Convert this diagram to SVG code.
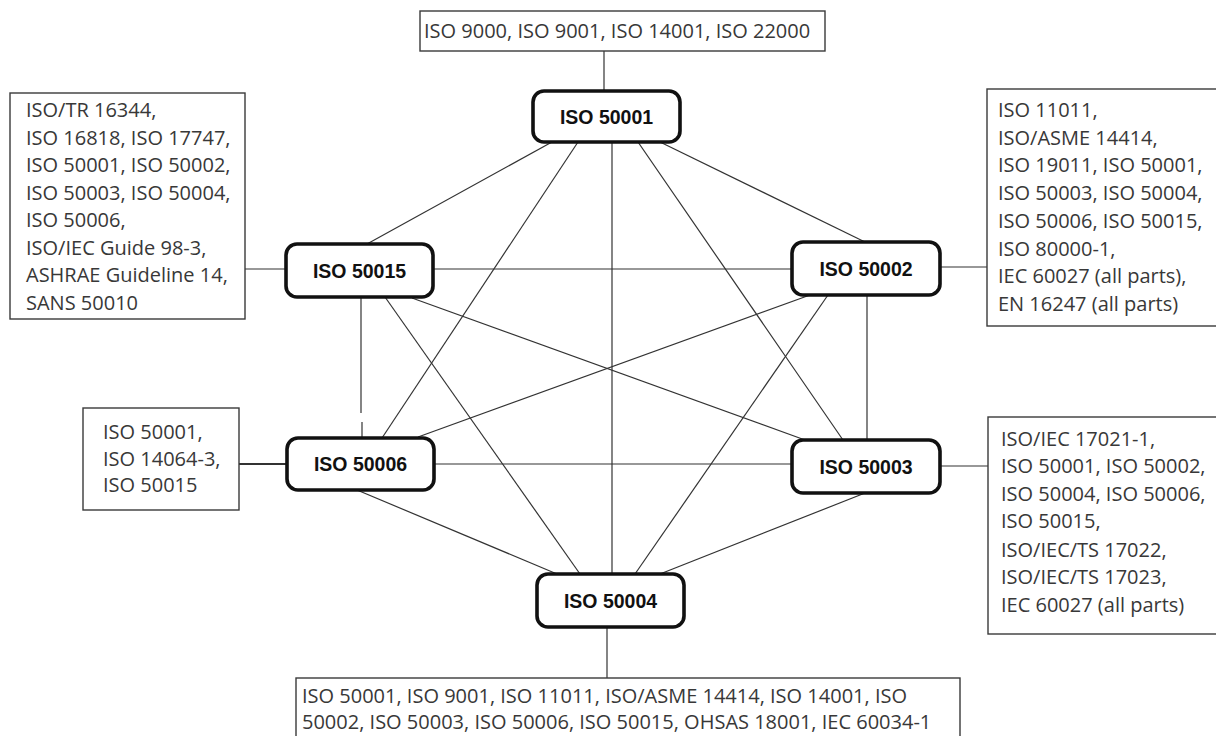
<svg xmlns="http://www.w3.org/2000/svg" width="1216" height="736" viewBox="0 0 1216 736">
<style>
.bg{fill:#fff}
.box{fill:#fff;stroke:#3a3a3a;stroke-width:1.4}
.node rect{fill:#fff;stroke:#111;stroke-width:3.6}
.node text{font-family:"Liberation Sans",Arial,sans-serif;font-weight:bold;font-size:19.5px;fill:#111;text-anchor:middle}
.lbl{font-family:"Open Sans","Noto Sans",sans-serif;font-size:20px;fill:#383838}
.edges line{stroke:#333;stroke-width:1.2}
.edges line.th{stroke-width:2.2}
</style>
<rect class="bg" x="0" y="0" width="1216" height="736"/>
<g class="edges">
<line x1="604" y1="51" x2="604" y2="91"/>
<line x1="245" y1="269" x2="286" y2="269"/>
<line x1="940" y1="267" x2="987" y2="267"/>
<line class="th" x1="239" y1="464" x2="287" y2="464"/>
<line x1="940" y1="466" x2="988" y2="466"/>
<line x1="607" y1="627" x2="607" y2="678"/>
<line x1="552" y1="142" x2="367" y2="244"/>
<line x1="578" y1="142" x2="382" y2="438"/>
<line x1="612" y1="142" x2="612" y2="574"/>
<line x1="638" y1="142" x2="843" y2="440"/>
<line x1="660" y1="142" x2="865" y2="242"/>
<line x1="433" y1="269" x2="792" y2="269"/>
<line x1="361" y1="297" x2="361" y2="413"/>
<line x1="362" y1="422" x2="362" y2="438"/>
<line x1="385" y1="297" x2="580" y2="574"/>
<line x1="412" y1="298" x2="805" y2="440"/>
<line x1="810" y1="295" x2="418" y2="437"/>
<line x1="828" y1="295" x2="635" y2="574"/>
<line x1="867" y1="295" x2="867" y2="440"/>
<line x1="434" y1="464" x2="792" y2="464"/>
<line x1="357" y1="490" x2="557" y2="574"/>
<line x1="865" y1="493" x2="660" y2="574"/>
</g>
<g id="box-top">
<rect class="box" x="420" y="11" width="405" height="40"/>
<text class="lbl" x="424" y="38">ISO 9000, ISO 9001, ISO 14001, ISO 22000</text>
</g>
<g id="box-50015">
<rect class="box" x="10" y="93" width="235" height="226"/>
<text class="lbl" x="26" y="117">ISO/TR 16344,</text>
<text class="lbl" x="26" y="144.5">ISO 16818, ISO 17747,</text>
<text class="lbl" x="26" y="172">ISO 50001, ISO 50002,</text>
<text class="lbl" x="26" y="199.5">ISO 50003, ISO 50004,</text>
<text class="lbl" x="26" y="227">ISO 50006,</text>
<text class="lbl" x="26" y="254.5">ISO/IEC Guide 98-3,</text>
<text class="lbl" x="26" y="282">ASHRAE Guideline 14,</text>
<text class="lbl" x="26" y="309.5">SANS 50010</text>
</g>
<g id="box-50002">
<rect class="box" x="987" y="89" width="240" height="237"/>
<text class="lbl" x="998" y="117">ISO 11011,</text>
<text class="lbl" x="998" y="144.7">ISO/ASME 14414,</text>
<text class="lbl" x="998" y="172.4">ISO 19011, ISO 50001,</text>
<text class="lbl" x="998" y="200.1">ISO 50003, ISO 50004,</text>
<text class="lbl" x="998" y="227.8">ISO 50006, ISO 50015,</text>
<text class="lbl" x="998" y="255.5">ISO 80000-1,</text>
<text class="lbl" x="998" y="283.2">IEC 60027 (all parts),</text>
<text class="lbl" x="998" y="310.9">EN 16247 (all parts)</text>
</g>
<g id="box-50006">
<rect class="box" x="83" y="408" width="156" height="102"/>
<text class="lbl" x="103" y="439">ISO 50001,</text>
<text class="lbl" x="103" y="465.5">ISO 14064-3,</text>
<text class="lbl" x="103" y="492">ISO 50015</text>
</g>
<g id="box-50003">
<rect class="box" x="988" y="417" width="240" height="217"/>
<text class="lbl" x="1001" y="445.5">ISO/IEC 17021-1,</text>
<text class="lbl" x="1001" y="473">ISO 50001, ISO 50002,</text>
<text class="lbl" x="1001" y="500.5">ISO 50004, ISO 50006,</text>
<text class="lbl" x="1001" y="528">ISO 50015,</text>
<text class="lbl" x="1001" y="556.5">ISO/IEC/TS 17022,</text>
<text class="lbl" x="1001" y="584">ISO/IEC/TS 17023,</text>
<text class="lbl" x="1001" y="612">IEC 60027 (all parts)</text>
</g>
<g id="box-bottom">
<rect class="box" x="296" y="678" width="664" height="70"/>
<text class="lbl" x="302" y="703">ISO 50001, ISO 9001, ISO 11011, ISO/ASME 14414, ISO 14001, ISO</text>
<text class="lbl" x="302" y="729">50002, ISO 50003, ISO 50006, ISO 50015, OHSAS 18001, IEC 60034-1</text>
</g>
<g id="n50001" class="node"><rect x="533" y="91" width="147" height="51" rx="11"/><text x="606.5" y="123.5">ISO 50001</text></g>
<g id="n50015" class="node"><rect x="286" y="244" width="147" height="53" rx="11"/><text x="359.5" y="277.5">ISO 50015</text></g>
<g id="n50002" class="node"><rect x="792" y="242" width="148" height="53" rx="11"/><text x="866" y="275.5">ISO 50002</text></g>
<g id="n50006" class="node"><rect x="287" y="438" width="147" height="52" rx="11"/><text x="360.5" y="471">ISO 50006</text></g>
<g id="n50003" class="node"><rect x="792" y="440" width="148" height="53" rx="11"/><text x="866" y="473.5">ISO 50003</text></g>
<g id="n50004" class="node"><rect x="537" y="574" width="147" height="53" rx="11"/><text x="610.5" y="607.5">ISO 50004</text></g>
</svg>
